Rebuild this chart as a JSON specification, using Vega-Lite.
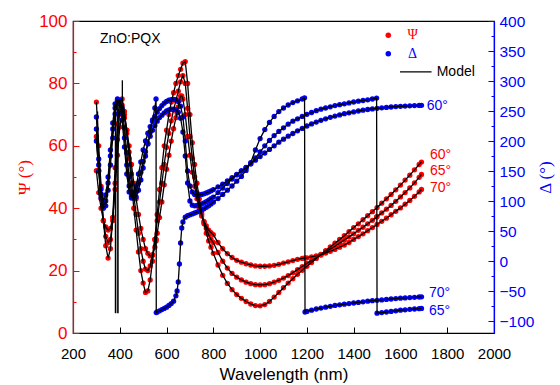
{
"$schema": "https://vega.github.io/schema/vega-lite/v6.json",
"width": 421, "height": 312,
"padding": {"left": 15, "top": 12, "right": 8, "bottom": 2},
"background": "white",
"config": {"view": {"stroke": "black", "strokeWidth": 1.2}, "font": "Liberation Sans", "axis": {"grid": false}},
"datasets": {
"obs": [
{"a":60,"w":300,"p":74,"d":240},{"a":60,"w":310,"p":60,"d":170},{"a":60,"w":320,"p":47,"d":120},{"a":60,"w":330,"p":36,"d":100},{"a":60,"w":340,"p":28,"d":110},{"a":60,"w":350,"p":24,"d":140},{"a":60,"w":360,"p":27,"d":185},{"a":60,"w":370,"p":37,"d":230},{"a":60,"w":380,"p":53,"d":262},{"a":60,"w":390,"p":67,"d":270},{"a":60,"w":400,"p":74,"d":262},{"a":60,"w":410,"p":75,"d":235},{"a":60,"w":420,"p":71,"d":190},{"a":60,"w":430,"p":64,"d":145},{"a":60,"w":440,"p":56,"d":115},{"a":60,"w":450,"p":48,"d":105},{"a":60,"w":460,"p":40,"d":110},{"a":60,"w":470,"p":33,"d":125},{"a":60,"w":480,"p":26,"d":145},{"a":60,"w":490,"p":20,"d":165},{"a":60,"w":500,"p":16,"d":185},{"a":60,"w":510,"p":13,"d":200},{"a":60,"w":520,"p":13.5,"d":213},{"a":60,"w":530,"p":17,"d":224},{"a":60,"w":540,"p":23,"d":233},{"a":60,"w":550,"p":30,"d":241},{"a":60,"w":560,"p":38,"d":248},{"a":60,"w":570,"p":46,"d":254},{"a":60,"w":580,"p":53,"d":259},{"a":60,"w":590,"p":60,"d":263},{"a":60,"w":600,"p":65,"d":266},{"a":60,"w":610,"p":70,"d":268},{"a":60,"w":620,"p":74,"d":269},{"a":60,"w":630,"p":77,"d":269.5},{"a":60,"w":640,"p":80,"d":269},{"a":60,"w":650,"p":82.5,"d":266},{"a":60,"w":660,"p":84.5,"d":258},{"a":60,"w":670,"p":86.5,"d":240},{"a":60,"w":680,"p":87,"d":200},{"a":60,"w":690,"p":80,"d":150},{"a":60,"w":700,"p":70,"d":125},{"a":60,"w":710,"p":61,"d":115},{"a":60,"w":720,"p":54,"d":111},{"a":60,"w":730,"p":48,"d":110},{"a":60,"w":740,"p":43,"d":110},{"a":60,"w":750,"p":38.5,"d":111},{"a":60,"w":760,"p":35,"d":112},{"a":60,"w":770,"p":32,"d":113.5},{"a":60,"w":780,"p":29.5,"d":115},{"a":60,"w":790,"p":27.5,"d":117},{"a":60,"w":800,"p":25.5,"d":119},
{"a":60,"w":820,"p":21.8,"d":123.5},{"a":60,"w":840,"p":18.5,"d":128},{"a":60,"w":860,"p":15.9,"d":133.5},{"a":60,"w":880,"p":13.9,"d":139},{"a":60,"w":900,"p":12.3,"d":144.5},{"a":60,"w":920,"p":11.1,"d":150},{"a":60,"w":940,"p":10.1,"d":155.5},{"a":60,"w":960,"p":9.3,"d":162},{"a":60,"w":980,"p":8.8,"d":168},{"a":60,"w":1000,"p":8.7,"d":174},{"a":60,"w":1020,"p":9.1,"d":180},{"a":60,"w":1040,"p":10.1,"d":186},{"a":60,"w":1060,"p":11.5,"d":192},{"a":60,"w":1080,"p":13,"d":198},{"a":60,"w":1100,"p":14.5,"d":203},{"a":60,"w":1120,"p":16,"d":208},{"a":60,"w":1140,"p":17.4,"d":212.5},{"a":60,"w":1160,"p":18.8,"d":217},{"a":60,"w":1180,"p":20.1,"d":221},{"a":60,"w":1200,"p":21.4,"d":225},{"a":60,"w":1220,"p":22.6,"d":228.5},{"a":60,"w":1240,"p":23.9,"d":231.5},{"a":60,"w":1260,"p":25.2,"d":234.5},{"a":60,"w":1280,"p":26.4,"d":237},{"a":60,"w":1300,"p":27.6,"d":239.5},{"a":60,"w":1320,"p":28.8,"d":241.5},{"a":60,"w":1340,"p":30,"d":243.5},{"a":60,"w":1360,"p":31.2,"d":245.5},{"a":60,"w":1380,"p":32.5,"d":247},{"a":60,"w":1400,"p":33.8,"d":248.5},{"a":60,"w":1420,"p":35,"d":250},{"a":60,"w":1440,"p":36.3,"d":251.3},{"a":60,"w":1460,"p":37.6,"d":252.5},{"a":60,"w":1480,"p":38.9,"d":253.5},{"a":60,"w":1500,"p":40.2,"d":254.5},{"a":60,"w":1520,"p":41.6,"d":255.3},{"a":60,"w":1540,"p":43,"d":256},{"a":60,"w":1560,"p":44.4,"d":256.7},{"a":60,"w":1580,"p":45.9,"d":257.3},{"a":60,"w":1600,"p":47.4,"d":257.8},{"a":60,"w":1620,"p":49,"d":258.2},{"a":60,"w":1640,"p":50.6,"d":258.6},{"a":60,"w":1660,"p":52.3,"d":259},{"a":60,"w":1680,"p":54,"d":259.3},{"a":60,"w":1690,"p":54.8,"d":259.5},
{"a":65,"w":300,"p":63,"d":220},{"a":65,"w":310,"p":52,"d":160},{"a":65,"w":320,"p":43,"d":112},{"a":65,"w":330,"p":36,"d":92},{"a":65,"w":340,"p":31,"d":100},{"a":65,"w":350,"p":29,"d":130},{"a":65,"w":360,"p":30,"d":175},{"a":65,"w":370,"p":36,"d":220},{"a":65,"w":380,"p":48,"d":255},{"a":65,"w":390,"p":62,"d":268},{"a":65,"w":400,"p":71,"d":265},{"a":65,"w":410,"p":73,"d":245},{"a":65,"w":420,"p":70,"d":205},{"a":65,"w":430,"p":65,"d":160},{"a":65,"w":440,"p":58,"d":125},{"a":65,"w":450,"p":51,"d":108},{"a":65,"w":460,"p":44,"d":106},{"a":65,"w":470,"p":38,"d":115},{"a":65,"w":480,"p":32,"d":130},{"a":65,"w":490,"p":27,"d":148},{"a":65,"w":500,"p":23,"d":166},{"a":65,"w":510,"p":20.5,"d":182},{"a":65,"w":520,"p":20,"d":196},{"a":65,"w":530,"p":21.5,"d":208},{"a":65,"w":540,"p":25,"d":218},{"a":65,"w":550,"p":30,"d":226},{"a":65,"w":560,"p":36,"d":233},{"a":65,"w":570,"p":42,"d":239},{"a":65,"w":580,"p":48,"d":243},{"a":65,"w":590,"p":54,"d":247},{"a":65,"w":600,"p":59.5,"d":250},{"a":65,"w":610,"p":64,"d":252},{"a":65,"w":620,"p":68,"d":253},{"a":65,"w":630,"p":71.5,"d":253},{"a":65,"w":640,"p":74.5,"d":252},{"a":65,"w":650,"p":77.5,"d":248},{"a":65,"w":660,"p":80.5,"d":238},{"a":65,"w":670,"p":82.5,"d":215},{"a":65,"w":680,"p":80,"d":175},{"a":65,"w":690,"p":72,"d":130},{"a":65,"w":700,"p":63,"d":100},{"a":65,"w":710,"p":56,"d":93},{"a":65,"w":720,"p":50,"d":92},{"a":65,"w":730,"p":45,"d":92.5},{"a":65,"w":740,"p":41,"d":93.5},{"a":65,"w":750,"p":38,"d":95},{"a":65,"w":760,"p":35.5,"d":97},{"a":65,"w":770,"p":33.5,"d":99},{"a":65,"w":780,"p":31.5,"d":101.5},{"a":65,"w":790,"p":30,"d":104},{"a":65,"w":800,"p":29,"d":106.5},
{"a":65,"w":820,"p":25.8,"d":114},{"a":65,"w":840,"p":23,"d":121.5},{"a":65,"w":860,"p":20.8,"d":129},{"a":65,"w":880,"p":19.1,"d":136.5},{"a":65,"w":900,"p":17.9,"d":143.5},{"a":65,"w":920,"p":17,"d":150},{"a":65,"w":940,"p":16.3,"d":156},{"a":65,"w":960,"p":15.8,"d":162},{"a":65,"w":980,"p":15.5,"d":172},{"a":65,"w":1000,"p":15.4,"d":182},{"a":65,"w":1020,"p":15.5,"d":192},{"a":65,"w":1040,"p":15.8,"d":201},{"a":65,"w":1060,"p":16.3,"d":209},{"a":65,"w":1080,"p":16.9,"d":216},{"a":65,"w":1100,"p":17.6,"d":222},{"a":65,"w":1120,"p":18.4,"d":228},{"a":65,"w":1140,"p":19.3,"d":233},{"a":65,"w":1160,"p":20.3,"d":237},{"a":65,"w":1180,"p":21.3,"d":241},{"a":65,"w":1200,"p":22.3,"d":244.5},{"a":65,"w":1220,"p":23.2,"d":247.5},{"a":65,"w":1240,"p":24.1,"d":250.5},{"a":65,"w":1260,"p":25,"d":253},{"a":65,"w":1280,"p":25.9,"d":255},{"a":65,"w":1300,"p":26.9,"d":257},{"a":65,"w":1320,"p":27.8,"d":259},{"a":65,"w":1340,"p":28.8,"d":260.5},{"a":65,"w":1360,"p":29.8,"d":262},{"a":65,"w":1380,"p":30.8,"d":263.5},{"a":65,"w":1400,"p":31.8,"d":265},{"a":65,"w":1420,"p":32.9,"d":266.3},{"a":65,"w":1440,"p":33.9,"d":267.5},{"a":65,"w":1460,"p":35,"d":268.7},{"a":65,"w":1480,"p":36.1,"d":270},{"a":65,"w":1498,"p":37.2,"d":271.5},{"a":65,"w":1500,"p":37.3,"d":-87},{"a":65,"w":1520,"p":38.5,"d":-86},{"a":65,"w":1540,"p":39.7,"d":-85},{"a":65,"w":1560,"p":40.9,"d":-84},{"a":65,"w":1580,"p":42.2,"d":-83},{"a":65,"w":1600,"p":43.6,"d":-82},{"a":65,"w":1620,"p":45,"d":-81.3},{"a":65,"w":1640,"p":46.5,"d":-80.6},{"a":65,"w":1660,"p":48.1,"d":-80},{"a":65,"w":1680,"p":49.9,"d":-79.4},{"a":65,"w":1690,"p":50.8,"d":-79},
{"a":70,"w":300,"p":52,"d":200},{"a":70,"w":310,"p":45,"d":150},{"a":70,"w":320,"p":40,"d":105},{"a":70,"w":330,"p":36,"d":88},{"a":70,"w":340,"p":34,"d":92},{"a":70,"w":350,"p":33,"d":118},{"a":70,"w":360,"p":33.5,"d":160},{"a":70,"w":370,"p":37,"d":205},{"a":70,"w":380,"p":46,"d":245},{"a":70,"w":390,"p":57,"d":265},{"a":70,"w":400,"p":66,"d":268},{"a":70,"w":410,"p":70,"d":255},{"a":70,"w":420,"p":69,"d":222},{"a":70,"w":430,"p":65,"d":180},{"a":70,"w":440,"p":60,"d":140},{"a":70,"w":450,"p":54,"d":115},{"a":70,"w":460,"p":48,"d":105},{"a":70,"w":470,"p":43,"d":107},{"a":70,"w":480,"p":38,"d":118},{"a":70,"w":490,"p":33.5,"d":135},{"a":70,"w":500,"p":30,"d":155},{"a":70,"w":510,"p":27,"d":175},{"a":70,"w":520,"p":25.5,"d":195},{"a":70,"w":530,"p":24.7,"d":215},{"a":70,"w":540,"p":25,"d":235},{"a":70,"w":550,"p":27.5,"d":255},{"a":70,"w":555,"p":29.5,"d":270},{"a":70,"w":556,"p":30,"d":-86},{"a":70,"w":560,"p":32,"d":-85},{"a":70,"w":570,"p":37,"d":-83},{"a":70,"w":580,"p":42,"d":-81},{"a":70,"w":590,"p":47.5,"d":-79},{"a":70,"w":600,"p":52.5,"d":-77},{"a":70,"w":610,"p":57,"d":-74},{"a":70,"w":620,"p":61.5,"d":-71},{"a":70,"w":630,"p":65.5,"d":-67},{"a":70,"w":640,"p":69,"d":-58},{"a":70,"w":645,"p":70.5,"d":-50},{"a":70,"w":650,"p":72.5,"d":-35},{"a":70,"w":655,"p":74.5,"d":-5},{"a":70,"w":660,"p":76,"d":30},{"a":70,"w":665,"p":76,"d":55},{"a":70,"w":670,"p":75,"d":65},{"a":70,"w":680,"p":70,"d":73},{"a":70,"w":690,"p":63,"d":75.5},{"a":70,"w":700,"p":57,"d":77},{"a":70,"w":710,"p":51.5,"d":78.5},{"a":70,"w":720,"p":47,"d":80},{"a":70,"w":730,"p":43,"d":81.5},{"a":70,"w":740,"p":40,"d":83},{"a":70,"w":750,"p":37.5,"d":85},{"a":70,"w":760,"p":35.8,"d":87},{"a":70,"w":770,"p":34.3,"d":89.5},{"a":70,"w":780,"p":33,"d":92},{"a":70,"w":790,"p":32.2,"d":95},{"a":70,"w":800,"p":31.5,"d":98},
{"a":70,"w":820,"p":29,"d":104},{"a":70,"w":840,"p":27,"d":111},{"a":70,"w":860,"p":25.4,"d":118},{"a":70,"w":880,"p":24.2,"d":125},{"a":70,"w":900,"p":23.3,"d":133},{"a":70,"w":920,"p":22.7,"d":141},{"a":70,"w":940,"p":22.2,"d":151},{"a":70,"w":960,"p":21.8,"d":164},{"a":70,"w":980,"p":21.5,"d":185},{"a":70,"w":1000,"p":21.4,"d":204},{"a":70,"w":1020,"p":21.4,"d":219},{"a":70,"w":1040,"p":21.5,"d":231},{"a":70,"w":1060,"p":21.7,"d":241},{"a":70,"w":1080,"p":22,"d":249},{"a":70,"w":1100,"p":22.4,"d":255},{"a":70,"w":1120,"p":22.8,"d":260},{"a":70,"w":1140,"p":23.2,"d":264},{"a":70,"w":1160,"p":23.6,"d":267},{"a":70,"w":1180,"p":23.9,"d":270},{"a":70,"w":1190,"p":24,"d":272},{"a":70,"w":1192,"p":24,"d":-85},{"a":70,"w":1200,"p":24.1,"d":-84},{"a":70,"w":1220,"p":24.4,"d":-82},{"a":70,"w":1240,"p":24.7,"d":-80},{"a":70,"w":1260,"p":25.1,"d":-78.5},{"a":70,"w":1280,"p":25.6,"d":-77},{"a":70,"w":1300,"p":26.2,"d":-75.5},{"a":70,"w":1320,"p":26.8,"d":-74},{"a":70,"w":1340,"p":27.5,"d":-73},{"a":70,"w":1360,"p":28.2,"d":-72},{"a":70,"w":1380,"p":29,"d":-71},{"a":70,"w":1400,"p":30,"d":-70},{"a":70,"w":1420,"p":30.9,"d":-69},{"a":70,"w":1440,"p":31.8,"d":-68},{"a":70,"w":1460,"p":32.8,"d":-67},{"a":70,"w":1480,"p":33.8,"d":-66.2},{"a":70,"w":1500,"p":34.8,"d":-65.5},{"a":70,"w":1520,"p":35.8,"d":-64.8},{"a":70,"w":1540,"p":36.8,"d":-64},{"a":70,"w":1560,"p":37.9,"d":-63.3},{"a":70,"w":1580,"p":39,"d":-62.6},{"a":70,"w":1600,"p":40.1,"d":-62},{"a":70,"w":1620,"p":41.3,"d":-61.5},{"a":70,"w":1640,"p":42.5,"d":-61},{"a":70,"w":1660,"p":43.8,"d":-60.5},{"a":70,"w":1680,"p":45.2,"d":-60},{"a":70,"w":1690,"p":46,"d":-59.7}
],
"dspike": [{"w":382,"d1":262,"d2":-87},{"w":392,"d1":268,"d2":-87}],
"pspike": [{"w":305,"p1":58,"p2":71},{"w":411,"p1":74,"p2":81}]
},
"layer": [
{"data": {"name": "obs"},
 "mark": {"type": "circle", "size": 28, "color": "#FF0000", "opacity": 1},
 "encoding": {
  "x": {"field": "w", "type": "quantitative", "scale": {"domain": [200, 2000], "nice": false, "zero": false},
   "axis": {"orient": "bottom", "values": [200,300,400,500,600,700,800,900,1000,1100,1200,1300,1400,1500,1600,1700,1800,1900,2000],
    "format": "d", "labelExpr": "datum.value % 200 === 0 ? datum.label : ''", "labelFlush": false, "labelOverlap": false,
    "tickSize": {"condition": {"test": "datum.value % 200 === 0", "value": -6}, "value": -3},
    "tickColor": "black", "domainColor": "black", "domainWidth": 1.2, "labelColor": "black", "labelFontSize": 15, "labelPadding": 19,
    "title": "Wavelength (nm)", "titleFontSize": 17, "titleFontWeight": "normal", "titleColor": "black", "titlePadding": 5}},
  "y": {"field": "p", "type": "quantitative", "scale": {"domain": [0, 100], "nice": false},
   "axis": {"orient": "left", "values": [0,10,20,30,40,50,60,70,80,90,100],
    "labelExpr": "datum.value % 20 === 0 ? datum.label : ''", "labelOverlap": false, "labelFlush": false,
    "tickSize": {"condition": {"test": "datum.value % 20 === 0", "value": -6}, "value": -3},
    "tickColor": "#FF0000", "domainColor": "#FF0000", "domainWidth": 1.2, "labelColor": "#FF0000", "labelFontSize": 17, "labelPadding": 12,
    "title": "Ψ (°)", "titleFont": "Liberation Serif", "titleFontSize": 17, "titleFontWeight": "normal", "titleColor": "#FF0000", "titlePadding": 5}}
 }},
{"data": {"name": "obs"},
 "mark": {"type": "circle", "size": 28, "color": "#0000FF", "opacity": 1},
 "encoding": {
  "x": {"field": "w", "type": "quantitative"},
  "y": {"field": "d", "type": "quantitative", "scale": {"domain": [-120, 400], "nice": false, "zero": false},
   "axis": {"orient": "right", "values": [-100,-75,-50,-25,0,25,50,75,100,125,150,175,200,225,250,275,300,325,350,375,400],
    "labelExpr": "datum.value % 50 === 0 ? datum.label : ''", "labelOverlap": false, "labelFlush": false,
    "tickSize": {"condition": {"test": "datum.value % 50 === 0", "value": -6}, "value": -3},
    "tickColor": "#0000FF", "domainColor": "#0000FF", "domainWidth": 1.2, "labelColor": "#0000FF", "labelFontSize": 15.5, "labelPadding": 11,
    "title": "Δ (°)", "titleFont": "Liberation Serif", "titleAngle": 270, "titleBaseline": "top", "titleFontSize": 17, "titleFontWeight": "normal", "titleColor": "#0000FF", "titlePadding": 4}}
 }},
{"data": {"name": "obs"},
 "mark": {"type": "line", "color": "black", "strokeWidth": 1.3},
 "encoding": {
  "x": {"field": "w", "type": "quantitative"},
  "y": {"field": "d", "type": "quantitative", "scale": {"domain": [-120, 400], "nice": false, "zero": false}, "axis": null},
  "detail": {"field": "a"}
 }},
{"data": {"name": "dspike"},
 "mark": {"type": "rule", "color": "black", "strokeWidth": 1.6},
 "encoding": {
  "x": {"field": "w", "type": "quantitative"},
  "y": {"field": "d1", "type": "quantitative", "scale": {"domain": [-120, 400], "nice": false, "zero": false}, "axis": null},
  "y2": {"field": "d2"}
 }},
{"data": {"values": [{"t": "60°", "w": 1712, "v": 258}, {"t": "70°", "w": 1722, "v": -52.5}, {"t": "65°", "w": 1722, "v": -83.7}]},
 "mark": {"type": "text", "color": "#0000FF", "fontSize": 14, "align": "left", "baseline": "middle"},
 "encoding": {
  "x": {"field": "w", "type": "quantitative"},
  "y": {"field": "v", "type": "quantitative", "scale": {"domain": [-120, 400], "nice": false, "zero": false}, "axis": null},
  "text": {"field": "t"}
 }},
{"data": {"name": "obs"},
 "mark": {"type": "line", "color": "black", "strokeWidth": 1.3},
 "encoding": {
  "x": {"field": "w", "type": "quantitative"},
  "y": {"field": "p", "type": "quantitative", "scale": {"domain": [0, 100], "nice": false}, "axis": null},
  "detail": {"field": "a"}
 }},
{"data": {"name": "pspike"},
 "mark": {"type": "rule", "color": "black", "strokeWidth": 1.3},
 "encoding": {
  "x": {"field": "w", "type": "quantitative"},
  "y": {"field": "p1", "type": "quantitative", "scale": {"domain": [0, 100], "nice": false}, "axis": null},
  "y2": {"field": "p2"}
 }},
{"data": {"values": [{"t": "60°", "w": 1726, "v": 57}, {"t": "65°", "w": 1726, "v": 51.9}, {"t": "70°", "w": 1726, "v": 46.5}]},
 "mark": {"type": "text", "color": "#FF0000", "fontSize": 14, "align": "left", "baseline": "middle"},
 "encoding": {
  "x": {"field": "w", "type": "quantitative"},
  "y": {"field": "v", "type": "quantitative", "scale": {"domain": [0, 100], "nice": false}, "axis": null},
  "text": {"field": "t"}
 }},
{"data": {"values": [{"t": "ZnO:PQX", "w": 315, "v": 94.1}, {"t": "Model", "w": 1755, "v": 83.7}]},
 "mark": {"type": "text", "color": "black", "fontSize": 14, "align": "left", "baseline": "middle"},
 "encoding": {
  "x": {"field": "w", "type": "quantitative"},
  "y": {"field": "v", "type": "quantitative", "scale": {"domain": [0, 100], "nice": false}, "axis": null},
  "text": {"field": "t"}
 }},
{"data": {"values": [{"w": 1598, "w2": 1733, "v": 83.7}]},
 "mark": {"type": "rule", "color": "black", "strokeWidth": 1.3},
 "encoding": {
  "x": {"field": "w", "type": "quantitative"},
  "x2": {"field": "w2"},
  "y": {"field": "v", "type": "quantitative", "scale": {"domain": [0, 100], "nice": false}, "axis": null}
 }},
{"data": {"values": [{"w": 1548, "v": 95.4}]},
 "mark": {"type": "circle", "size": 30, "color": "#FF0000", "opacity": 1},
 "encoding": {
  "x": {"field": "w", "type": "quantitative"},
  "y": {"field": "v", "type": "quantitative", "scale": {"domain": [0, 100], "nice": false}, "axis": null}
 }},
{"data": {"values": [{"w": 1548, "v": 89.5}]},
 "mark": {"type": "circle", "size": 30, "color": "#0000FF", "opacity": 1},
 "encoding": {
  "x": {"field": "w", "type": "quantitative"},
  "y": {"field": "v", "type": "quantitative", "scale": {"domain": [0, 100], "nice": false}, "axis": null}
 }},
{"data": {"values": [{"t": "Ψ", "w": 1652, "v": 95.4}]},
 "mark": {"type": "text", "color": "#FF0000", "fontSize": 14, "font": "Liberation Serif", "align": "center", "baseline": "middle"},
 "encoding": {
  "x": {"field": "w", "type": "quantitative"},
  "y": {"field": "v", "type": "quantitative", "scale": {"domain": [0, 100], "nice": false}, "axis": null},
  "text": {"field": "t"}
 }},
{"data": {"values": [{"t": "Δ", "w": 1652, "v": 89.5}]},
 "mark": {"type": "text", "color": "#0000FF", "fontSize": 14, "font": "Liberation Serif", "align": "center", "baseline": "middle"},
 "encoding": {
  "x": {"field": "w", "type": "quantitative"},
  "y": {"field": "v", "type": "quantitative", "scale": {"domain": [0, 100], "nice": false}, "axis": null},
  "text": {"field": "t"}
 }}
],
"resolve": {"scale": {"y": "independent"}}
}
